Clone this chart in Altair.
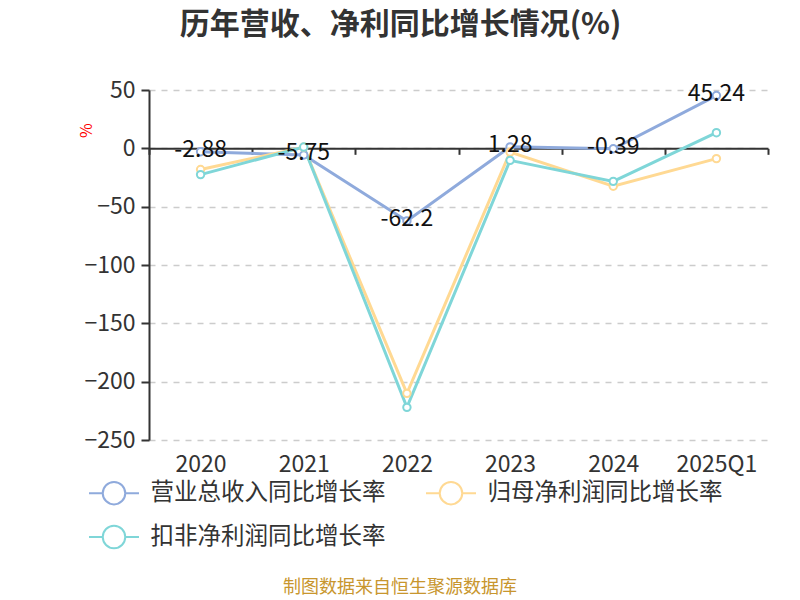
import altair as alt
import pandas as pd

years = ["2020", "2021", "2022", "2023", "2024", "2025Q1"]
revenue = [-2.88, -5.75, -62.2, 1.28, -0.39, 45.24]
net_profit = [-18.2, 1.0, -210.0, -3.2, -32.5, -8.8]
deducted = [-22.5, 1.1, -222.0, -10.3, -28.3, 13.4]
series_names = ["营业总收入同比增长率", "归母净利润同比增长率", "扣非净利润同比增长率"]
colors = ["#8FAADC", "#FFD993", "#7FD6D8"]
rev_labels = ["-2.88", "-5.75", "-62.2", "1.28", "-0.39", "45.24"]

rows = []
for i, (name, vals) in enumerate(zip(series_names, [revenue, net_profit, deducted])):
    for y, v in zip(years, vals):
        rows.append({"year": y, "value": v, "series": name, "z": i})
df = pd.DataFrame(rows)
lab_df = pd.DataFrame({"year": years, "value": revenue, "label": rev_labels})

# legend fills column-wise: order so that rows read 营业, 归母 / 扣非
legend_domain = [series_names[0], series_names[2], series_names[1]]
legend_range = [colors[0], colors[2], colors[1]]

FONT = "Noto Sans CJK SC"
W, H = 619, 350

xscale = alt.Scale(domain=years, paddingInner=0, paddingOuter=0)
yscale = alt.Scale(domain=[-250, 50], nice=False, zero=False)
cscale = alt.Scale(domain=legend_domain, range=legend_range)

legend_path = "M-2,0L-0.9,0M0.9,0L2,0M-0.9,0A0.9,0.9 0 1 1 0.9,0A0.9,0.9 0 1 1 -0.9,0"

x_axis = alt.Axis(title=None, labelFont=FONT, labelFontSize=23,
                  labelColor="#333333", labelAngle=0,
                  domainColor="#333333", domainWidth=2,
                  tickColor="#333333", tickWidth=2, tickSize=6,
                  tickBand="extent", offset=-291.67,
                  labelPadding=299, orient="bottom")
y_axis = alt.Axis(title="%", titleColor="red", titleFont=FONT,
                  titleFontSize=16, titleFontWeight="normal",
                  titleX=-55, titleY=40, titleAngle=-90,
                  values=[50, 0, -50, -100, -150, -200, -250],
                  labelFont=FONT, labelFontSize=23, labelColor="#333333",
                  domainColor="#333333", domainWidth=2,
                  tickColor="#333333", tickSize=8, tickWidth=2,
                  labelPadding=6,
                  gridColor="#cccccc", gridDash=[6, 6], gridWidth=1.5)

color_enc = alt.Color(
    "series:N",
    scale=cscale,
    legend=alt.Legend(
        title=None, orient="none", legendX=-48.5, legendY=389.5, columns=2,
        symbolType=legend_path, symbolSize=625, symbolStrokeWidth=2,
        symbolFillColor="white", labelFont=FONT, labelFontSize=23.5,
        labelColor="#333333", labelOffset=23, columnPadding=36, rowPadding=13,
        labelLimit=400,
    ),
)

base = alt.Chart(df)

lines = base.mark_line(strokeWidth=3).encode(
    x=alt.X("year:N", scale=xscale, sort=years, axis=x_axis),
    y=alt.Y("value:Q", scale=yscale, axis=y_axis),
    color=color_enc,
    detail="z:O",
)

points = base.mark_point(filled=False, fill="white", size=55, strokeWidth=2, opacity=1).encode(
    x=alt.X("year:N", scale=xscale, sort=years, axis=x_axis),
    y=alt.Y("value:Q", scale=yscale, axis=y_axis),
    color=color_enc,
)

labels = alt.Chart(lab_df).mark_text(font=FONT, fontSize=23, color="#111111",
                                     baseline="middle", dy=-2).encode(
    x=alt.X("year:N", scale=xscale, sort=years, axis=x_axis),
    y=alt.Y("value:Q", scale=yscale, axis=y_axis),
    text="label:N",
)

footer = alt.Chart(pd.DataFrame({"t": ["制图数据来自恒生聚源数据库"]})).mark_text(
    font=FONT, fontSize=18, color="#C8962E", baseline="middle", align="center"
).encode(x=alt.value(400 - 149), y=alt.value(588 - 90), text="t:N")

chart = alt.layer(lines, points, labels, footer).properties(
    width=W, height=H,
    background="white",
    autosize=alt.AutoSizeParams(type="none"),
    padding={"left": 141, "top": 82, "right": 24, "bottom": 160},
    title=alt.Title("历年营收、净利同比增长情况(%)", font=FONT, fontSize=30,
                    fontWeight="bold", color="#333333", anchor="middle",
                    dx=-58, offset=39),
).configure_view(stroke=None)

chart.save("out.html", embed_options={"renderer": "svg", "actions": False})
